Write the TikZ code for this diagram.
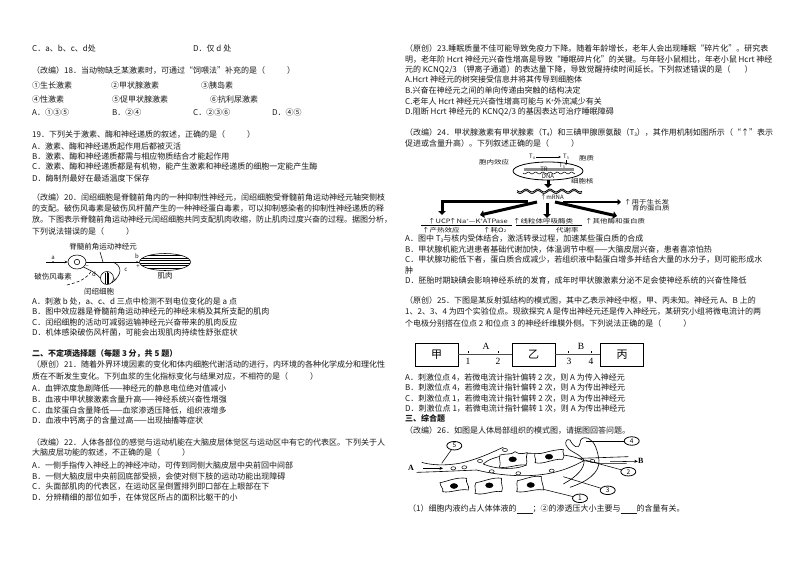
\documentclass[tikz,border=0pt]{standalone}
\usepackage{fontspec}
\usetikzlibrary{arrows.meta,shapes.geometric}
\setmainfont{Noto Sans CJK SC}
\newfontfamily\serifcjk{Liberation Serif}
\newcounter{tlc}
\tikzset{
 txt/.style={anchor=base west,inner sep=0pt,text=black!90,font=\fontsize{8}{9}\selectfont},
 fig/.style={anchor=center,inner sep=0pt,text=black!90,font=\fontsize{7.5}{8}\selectfont},
 figs/.style={anchor=center,inner sep=0pt,text=black!90,font=\fontsize{6}{7}\selectfont},
 numc/.style={draw,ellipse,inner sep=0pt,minimum width=15pt,minimum height=8.5pt,line width=.8pt,font=\fontsize{6.5}{7}\selectfont},
 box/.style={draw,line width=.9pt,minimum width=43pt,minimum height=23pt,inner sep=0pt,font=\fontsize{11}{12}\selectfont},
 wire/.style={line width=.55pt},
 heavy/.style={line width=3pt,-{Triangle[width=7.5pt,length=4pt]}},
 cellb/.style={draw,line width=.6pt,fill=white},
 nucleus/.style={fill=black,draw=black,ellipse,inner sep=0pt,minimum width=7.5pt,minimum height=5pt},
 rbc/.style={draw=black,fill=white,ellipse,line width=.5pt,inner sep=0pt,minimum width=5pt,minimum height=3.2pt}
}
\newcommand{\tl}[3]{\stepcounter{tlc}\node[txt] (t\arabic{tlc}) at (#1,#2+2.8) {#3};}
\newcommand{\tb}[3]{\stepcounter{tlc}\node[txt,font=\fontsize{8}{9}\selectfont\bfseries] (t\arabic{tlc}) at (#1,#2+2.8) {#3};}
\newcommand{\fl}[3]{\stepcounter{tlc}\node[fig] (t\arabic{tlc}) at (#1,#2) {#3};}
\newcommand{\fs}[3]{\stepcounter{tlc}\node[figs] (t\arabic{tlc}) at (#1,#2) {#3};}
\newcommand{\fw}[3]{\stepcounter{tlc}\node[fig,anchor=west] (t\arabic{tlc}) at (#1,#2) {\scalebox{1}[.8]{#3}};}
\newcommand{\Sub}[1]{\raisebox{-1pt}{\scalebox{.6}{#1}}}
\newcommand{\Sup}[1]{\raisebox{2.5pt}{\scalebox{.6}{#1}}}
\begin{document}
\begin{tikzpicture}[x=1pt,y=-1pt]
\useasboundingbox (0,0) rectangle (794,560);
\fill[white] (0,0) rectangle (794,560);
% left column
\tl{32}{49}{C．a、b、c、d处}
\tl{193}{49}{D．仅 d 处}
\tl{32}{71}{（改编）18．当动物缺乏某激素时，可通过“饲喂法”补充的是（\hspace{22pt}）}
\tl{32}{86}{①生长激素}\tl{111}{86}{②甲状腺激素}\tl{201}{86}{③胰岛素}
\tl{32}{100}{④性激素}\tl{112}{100}{⑤促甲状腺激素}\tl{210}{100}{⑥抗利尿激素}
\tl{32}{113}{A．①③⑤}\tl{112}{113}{B．②④}\tl{193}{113}{C．②③⑥}\tl{272}{113}{D．④⑤}
\tl{32}{135}{19．下列关于激素、酶和神经递质的叙述，正确的是（\hspace{22pt}）}
\tl{32}{147}{A．激素、酶和神经递质起作用后都被灭活}
\tl{32}{157}{B．激素、酶和神经递质都需与相应物质结合才能起作用}
\tl{32}{167}{C．激素、酶和神经递质都是有机物，能产生激素和神经递质的细胞一定能产生酶}
\tl{32}{179}{D．酶制剂最好在最适温度下保存}
\tl{32}{198}{（改编）20．闰绍细胞是脊髓前角内的一种抑制性神经元，闰绍细胞受脊髓前角运动神经元轴突侧枝}
\tl{32}{209}{的支配。破伤风毒素是破伤风杆菌产生的一种神经蛋白毒素，可以抑制感染者的抑制性神经递质的释}
\tl{32}{220}{放。下图表示脊髓前角运动神经元闰绍细胞共同支配肌肉收缩，防止肌肉过度兴奋的过程。据图分析，}
\tl{32}{232}{下列说法错误的是（\hspace{22pt}）}
\tl{32}{302}{A．刺激 b 处，a、c、d 三点中检测不到电位变化的是 a 点}
\tl{32}{312}{B．图中效应器是脊髓前角运动神经元的神经末梢及其所支配的肌肉}
\tl{32}{323}{C．闰绍细胞的活动可减弱运输神经元兴奋带来的肌肉反应}
\tl{32}{333}{D．机体感染破伤风杆菌，可能会出现肌肉持续性舒张症状}
\tb{32}{354}{二、不定项选择题（每题 3 分，共 5 题）}
\tl{32}{365}{（原创）21．随着外界环境因素的变化和体内细胞代谢活动的进行，内环境的各种化学成分和理化性}
\tl{32}{377}{质在不断发生变化。下列血浆的生化指标变化与结果对应，不相符的是（\hspace{22pt}）}
\tl{32}{389}{A．血钾浓度急剧降低——神经元的静息电位绝对值减小}
\tl{32}{400}{B．血液中甲状腺激素含量升高——神经系统兴奋性增强}
\tl{32}{411}{C．血浆蛋白含量降低——血浆渗透压降低，组织液增多}
\tl{32}{421}{D．血液中钙离子的含量过高——出现抽搐等症状}
\tl{32}{443}{（改编）22．人体各部位的感觉与运动机能在大脑皮层体觉区与运动区中有它的代表区。下列关于人}
\tl{32}{453}{大脑皮层功能的叙述，不正确的是（\hspace{22pt}）}
\tl{32}{466}{A．一侧手指传入神经上的神经冲动，可传到同侧大脑皮层中央前回中间部}
\tl{32}{477}{B．一侧大脑皮层中央前回底部受损，会使对侧下肢的运动功能出现障碍}
\tl{32}{487}{C．头面部肌肉的代表区，在运动区呈倒置排列即口部在上眼部在下}
\tl{32}{498}{D．分辨精细的部位如手，在体觉区所占的面积比躯干的小}
% right column
\tl{405}{49}{（原创）23.睡眠质量不佳可能导致免疫力下降。随着年龄增长，老年人会出现睡眠“碎片化”。研究表}
\tl{405}{60}{明，老年阶 Hcrt 神经元兴奋性增高是导致“睡眠碎片化”的关键。与年轻小鼠相比，年老小鼠 Hcrt 神经}
\tl{405}{70}{元的 KCNQ2/3 （钾离子通道）的表达量下降，导致觉醒持续时间延长。下列叙述错误的是（\hspace{14pt}）}
\tl{405}{80}{A.Hcrt 神经元的树突接受信息并将其传导到细胞体}
\tl{405}{91}{B.兴奋在神经元之间的单向传递由突触的结构决定}
\tl{405}{102}{C.老年人 Hcrt 神经元兴奋性增高可能与 K\Sup{+}外流减少有关}
\tl{405}{112}{D.阻断 Hcrt 神经元的 KCNQ2/3 的基因表达可治疗睡眠障碍}
\tl{405}{133}{（改编）24．甲状腺激素有甲状腺素（T\Sub{4}）和三碘甲腺原氨酸（T\Sub{3}），其作用机制如图所示（“↑”表示}
\tl{405}{144}{促进或含量升高）。下列叙述正确的是（\hspace{22pt}）}
\tl{405}{239}{A．图中 T\Sub{3}与核内受体结合，激活转录过程，加速某些蛋白质的合成}
\tl{405}{250}{B．甲状腺机能亢进患者基础代谢加快，体温调节中枢——大脑皮层兴奋，患者喜凉怕热}
\tl{405}{260}{C．甲状腺功能低下者，蛋白质合成减少，若组织液中黏蛋白增多并结合大量的水分子，则可能形成水}
\tl{405}{271}{肿}
\tl{405}{281}{D．胚胎时期缺碘会影响神经系统的发育，成年时甲状腺激素分泌不足会使神经系统的兴奋性降低}
\tl{405}{301}{（原创）25．下图是某反射弧结构的模式图，其中乙表示神经中枢，甲、丙未知。神经元 A、B 上的}
\tl{405}{312}{1、2、3、4 为四个实验位点。现欲探究 A 是传出神经元还是传入神经元，某研究小组将微电流计的两}
\tl{405}{324}{个电极分别搭在位点 2 和位点 3 的神经纤维膜外侧。下列说法正确的是（\hspace{22pt}）}
\tl{405}{378}{A．刺激位点 4，若微电流计指针偏转 2 次，则 A 为传入神经元}
\tl{405}{388}{B．刺激位点 4，若微电流计指针偏转 2 次，则 A 为传出神经元}
\tl{405}{399}{C．刺激位点 1，若微电流计指针偏转 2 次，则 A 为传出神经元}
\tl{405}{409}{D．刺激位点 1，若微电流计指针偏转 1 次，则 A 为传出神经元}
\tb{405}{419}{三、综合题}
\tl{405}{431}{（改编）26．如图是人体局部组织的模式图，请据图回答问题。}
\tl{408}{509}{（1）细胞内液约占人体体液的\underline{\hspace{16pt}}；②的渗透压大小主要与\underline{\hspace{16pt}}的含量有关。}

% Figure Q20
\fl{103}{247}{脊髓前角运动神经元}
\fs{53}{258}{a}\fs{137}{256}{b}
\fl{53}{277}{破伤风毒素}\fs{94}{274}{d}\fs{126}{270}{c}\fl{99}{292}{闰绍细胞}\fl{165}{276}{肌肉}
\node[draw,ellipse,line width=.55pt,minimum width=18pt,minimum height=14pt,inner sep=0pt] (mn) at (77,262) {};
\node[draw,circle,line width=.55pt,minimum size=5.5pt,inner sep=0pt] (mnc) at (77,262) {};
\node[draw,ellipse,line width=.55pt,minimum width=51pt,minimum height=17pt,inner sep=0pt] (mus) at (165,262) {};
\begin{scope}
\clip (165,262) ellipse (25.5 and 8.5);
\foreach \yy in {255.5,258,260.5,263,265.5,268}{\draw[line width=.7pt] (135,\yy) -- (195,\yy);}
\end{scope}
\node[draw,circle,line width=.55pt,minimum size=13pt,inner sep=0pt] (rc) at (107,278) {};
\draw[line width=.4pt] (105.5,272.5) -- (105.5,283.5) (107,272) -- (107,284) (108.5,272.5) -- (108.5,283.5);
\coordinate (ax0) at (46,262);
\draw[wire,-{Stealth[length=3pt,width=2.5pt]}] (ax0) -- (mn.west);
\fill (53,262) circle (.9);
\draw[wire] (mn.east) -- (mus.west);
\fill (137,262) circle (.9);
\draw[wire] (100,252) -- (103,262);
\draw[wire] (mn.south east) .. controls (92,271) and (96,273) .. (rc.west);
\draw[wire] (113,262) .. controls (122,266) and (123,274) .. (rc.south east);
\draw[wire,densely dashed] (67,285) .. controls (78,282) and (86,280) .. (92,270);
\fs{138}{267}{+}\fs{87}{267}{−}\fs{115}{281}{+}

% Figure Q24
\fs{532}{157}{T\Sub{4}}\fs{566}{157}{T\Sub{3}}
\fw{579}{158}{胞质}\fw{479}{162}{胞内效应}\fw{571}{181}{细胞核}
\draw[wire,-{Stealth[length=2.5pt,width=2pt]}] (536,157) -- (561,157);
\node[draw,ellipse,line width=.8pt,minimum width=70pt,minimum height=18pt,inner sep=0pt] (nuc) at (548,171) {};
\fs{562}{166}{T\Sub{3}}
\draw[wire,-{Stealth[length=2pt,width=2pt]}] (566,160) -- (566,165);
\fill[black!45] (524,168) rectangle (574,170.5);
\fs{544}{169}{TR}
\draw[line width=.55pt,domain=0:52,samples=60,smooth] plot ({523+\x},{173+.9*sin(\x*50)});
\fs{548}{176}{DNA}
\draw[heavy] (548,180) -- (548,188);
\draw[line width=.8pt,domain=0:65,samples=80,smooth] plot ({517+\x},{190.5+1.4*sin(\x*30)});
\draw[line width=.8pt,domain=0:65,samples=80,smooth] plot ({517+\x},{192+1.4*sin(\x*30)});
\fs{552}{197}{↑mRNA}
\coordinate (la) at (528,201);\coordinate (lb) at (442,201);\coordinate (lc) at (442,215);
\draw[line width=3pt,-{Triangle[width=7.5pt,length=4pt]}] (la) -- (lb) -- (lc);
\draw[heavy] (537,202) -- (480,215);
\draw[heavy] (547,203) -- (547,218);
\draw[heavy] (555,202) -- (617,216);
\draw[line width=2pt,-{Triangle[width=6pt,length=3.5pt]}] (563,202) -- (621,202);
\fw{624}{202}{↑用于生长发}
\fw{632}{208}{育的蛋白质}
\fw{428}{221}{↑UCP}
\fw{449}{221}{↑Na\Sup{+}—K\Sup{+}ATPase}
\fw{513}{221}{↑线粒体呼吸酶类}
\fw{585}{221}{↑其他酶和蛋白质}
\draw[line width=.45pt] (421,225) -- (512,225) (516,225) -- (582,225);
\fw{422}{230}{↑产热效应}
\fw{483}{230}{↑耗O\Sub{2}}
\fw{556}{230}{代谢率}

% Figure Q25
\node[box] (jia) at (436.5,354.5) {甲};
\node[box] (yi) at (533.5,354.5) {乙};
\node[box] (bing) at (622,354.5) {丙};
\draw[line width=.9pt,black!70] (jia) -- (yi);
\draw[line width=.9pt,black!70] (yi) -- (bing);
\foreach \xx in {468,498,568,591}{\draw[line width=.4pt] (\xx,351) -- (\xx,353);}
\foreach \lab/\xx/\yy in {A/486/346,B/581/346,1/468/361,2/498/361,3/569/361,4/591/361}{
 \node[anchor=center,inner sep=0pt,font=\serifcjk\fontsize{9.5}{10}\selectfont] (q\lab) at (\xx,\yy) {\lab};}

% Figure Q26
\begin{scope}[x=.3333pt,y=-.3333pt,shift={(400pt,-410pt)},line width=.6pt]
\draw (65,157) .. controls (110,170) and (170,165) .. (210,152) .. controls (250,140) and (280,125) .. (310,112);
\draw (50,187) .. controls (120,185) and (180,182) .. (230,180) .. controls (300,198) and (400,205) .. (470,185) .. controls (510,175) and (535,160) .. (552,152);
\draw (250,162) .. controls (270,140) and (340,128) .. (400,130) .. controls (460,130) and (520,135) .. (552,152) -- (600,160) -- (680,160);
\draw (250,162) .. controls (280,176) and (340,182) .. (380,165);
\draw (540,145) -- (685,140);
% lymph capillary
\draw (510,232) .. controls (560,215) and (600,190) .. (597,150) .. controls (592,120) and (585,95) .. (565,85) .. controls (550,80) and (540,85) .. (540,100) .. controls (535,120) and (520,110) .. (510,90) .. controls (500,85) and (495,95) .. (498,105) .. controls (505,125) and (530,125) .. (552,150) .. controls (555,175) and (530,200) .. (490,222);
% cells
\draw[cellb] (300,135) .. controls (320,130) and (335,135) .. (345,125) .. controls (360,135) and (370,130) .. (382,128) .. controls (375,145) and (385,155) .. (378,165) .. controls (350,162) and (330,175) .. (298,172) .. controls (305,160) and (295,150) .. (300,135) -- cycle;
\draw[cellb] (405,130) .. controls (425,135) and (445,120) .. (490,118) .. controls (485,130) and (498,135) .. (488,148) .. controls (460,145) and (430,165) .. (405,158) .. controls (412,148) and (400,142) .. (405,130) -- cycle;
\draw[cellb] (120,218) .. controls (140,215) and (170,200) .. (200,205) .. controls (195,220) and (210,225) .. (205,240) .. controls (180,235) and (150,250) .. (128,245) .. controls (132,235) and (120,230) .. (120,218) -- cycle;
\draw[cellb] (228,218) .. controls (250,215) and (280,200) .. (305,205) .. controls (300,220) and (312,230) .. (305,245) .. controls (280,240) and (250,258) .. (225,250) .. controls (230,240) and (220,230) .. (228,218) -- cycle;
\draw[cellb] (352,212) .. controls (375,208) and (400,195) .. (425,200) .. controls (422,215) and (432,225) .. (430,240) .. controls (405,235) and (375,250) .. (350,245) .. controls (355,235) and (348,225) .. (352,212) -- cycle;
\end{scope}
\node[nucleus] (nua) at (512.7,459.3) {};
\node[nucleus] (nub) at (549,456.7) {};
\node[nucleus] (nuc1) at (454,486) {};
\node[nucleus] (nud) at (489.3,485.3) {};
\node[nucleus] (nue) at (530.7,485) {};
\node[rbc] (rba) at (453.3,468.3) {};
\node[rbc] (rbb) at (464.3,467.3) {};
\node[rbc] (rbc1) at (480,461) {};
\node[rbc] (rbd) at (505,450) {};
\node[rbc] (rbe) at (491.7,471.3) {};
\node[rbc] (rbf) at (518.3,473.3) {};
\node[rbc] (rbg) at (551.7,470.7) {};
\node[rbc] (rbh) at (592.3,461) {};
\node[numc] (n5) at (454.3,445.7) {5};
\node[numc] (n4) at (631.7,441) {4};
\node[numc] (n2) at (628.3,471.7) {2};
\node[numc] (n3) at (607.7,490.3) {3};
\node[numc] (n1) at (580,498.3) {1};
\coordinate (p5) at (441.7,463.3);\coordinate (p4) at (586,441);
\coordinate (p2) at (585,460);\coordinate (p3) at (563.3,476.7);\coordinate (p1) at (543.3,489.3);
\draw[wire] (n5) -- (p5);\draw[wire] (n4) -- (p4);\draw[wire] (n2) -- (p2);\draw[wire] (n3) -- (p3);\draw[wire] (n1) -- (p1);
\node[anchor=center,inner sep=0pt,font=\serifcjk\bfseries\fontsize{8}{9}\selectfont] (lA) at (411,468.3) {A};
\node[anchor=center,inner sep=0pt,font=\serifcjk\bfseries\fontsize{8}{9}\selectfont] (lB) at (640.7,461.3) {B};
\coordinate (aa) at (423,468.3);\coordinate (ab) at (443,468.3);
\coordinate (ba) at (610,461.7);
\draw[wire,-{Stealth[length=3.5pt,width=3pt]}] (aa) -- (ab);
\draw[wire,-{Stealth[length=3.5pt,width=3pt]}] (ba) -- (lB.west);
\end{tikzpicture}
\end{document}
